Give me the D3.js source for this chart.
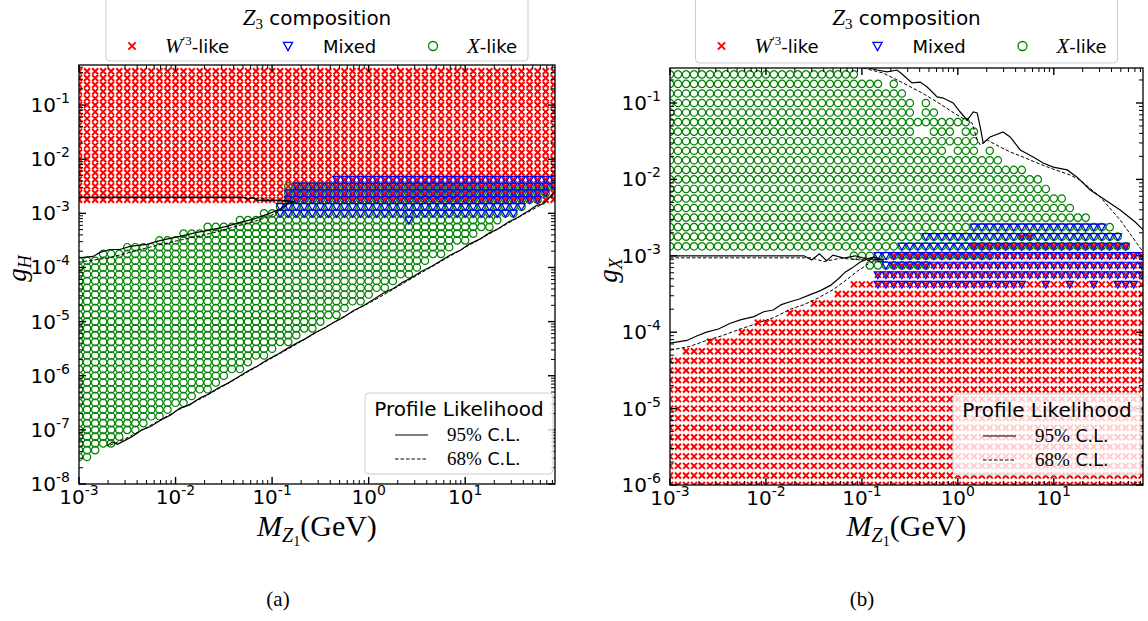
<!DOCTYPE html>
<html><head><meta charset="utf-8">
<script src="https://cdn.jsdelivr.net/npm/d3@7"></script>
<style>body{margin:0;background:#fff}</style>
</head><body>
<svg id="c" width="1148" height="621" xmlns="http://www.w3.org/2000/svg"></svg>
<script>
// ---------- scan grid (log-spaced parameter scan) ----------
const mGrid = [0.001,0.00121,0.00147,0.00178,0.00215,0.00261,0.00316,0.00383,0.00464,0.00562,0.00681,0.00825,
 0.01,0.0121,0.0147,0.0178,0.0215,0.0261,0.0316,0.0383,0.0464,0.0562,0.0681,0.0825,
 0.1,0.121,0.147,0.178,0.215,0.261,0.316,0.383,0.464,0.562,0.681,0.825,
 1,1.21,1.47,1.78,2.15,2.61,3.16,3.83,4.64,5.62,6.81,8.25,
 10,12.1,14.7,17.8,21.5,26.1,31.6,38.3,46.4,56.2,68.1,82.5];
const gGrid = [1e-8,1.33e-8,1.78e-8,2.37e-8,3.16e-8,4.22e-8,5.62e-8,7.5e-8,
 1e-7,1.33e-7,1.78e-7,2.37e-7,3.16e-7,4.22e-7,5.62e-7,7.5e-7,
 1e-6,1.33e-6,1.78e-6,2.37e-6,3.16e-6,4.22e-6,5.62e-6,7.5e-6,
 1e-5,1.33e-5,1.78e-5,2.37e-5,3.16e-5,4.22e-5,5.62e-5,7.5e-5,
 1e-4,1.33e-4,1.78e-4,2.37e-4,3.16e-4,4.22e-4,5.62e-4,7.5e-4,
 1e-3,1.33e-3,1.78e-3,2.37e-3,3.16e-3,4.22e-3,5.62e-3,7.5e-3,
 1e-2,1.33e-2,1.78e-2,2.37e-2,3.16e-2,4.22e-2,5.62e-2,7.5e-2,
 0.1,0.133,0.178,0.237,0.316,0.422];

// ---------- panel (a): g_H vs M_Z1 ----------
const aRedRows = [42, 61];               // W'3-like rows, every column
const aGreenLo = [4,4,5,6,6,7,8,8,9,10,10,11,12,12,13,14,14,15,16,17,17,18,19,19,20,21,21,22,23,23,
 24,25,25,26,27,27,28,29,29,30,31,31,32,33,34,34,35,36,36,37,38,38,39,40,40,41,42,42,43,44];
const aGreenHi = [33,33,33,34,34,34,35,35,35,35,36,36,36,37,37,37,38,38,38,38,39,39,39,40,40,41,
 44,44,44,44,44,44,44,44,44,44,44,44,44,44,44,44,44,44,44,44,44,44,44,44,44,44,44,44,44,44,44,44,44,44];
const aMixed = [[25,40,41],[26,40,43],[27,40,44],[28,40,44],[29,40,44],[30,40,44],[31,40,44],
 [32,40,45],[33,40,45],[34,40,45],[35,40,45],[36,40,45],[37,40,45],[38,40,45],[39,40,45],[40,40,45],
 [41,39,45],[42,40,45],[43,40,45],[44,40,45],[45,40,45],[46,40,45],[47,40,45],[48,40,45],[49,40,45],
 [50,40,45],[51,40,45],[52,40,45],[53,40,45],[54,40,45],[55,41,45],[56,42,45],[57,42,45],[58,43,45],[59,44,45]];
const aCL95Wedge = [[0.001,2.0e-3],[0.02,2.0e-3],[0.05,2.0e-3],[0.056,1.78e-3],[0.062,1.98e-3],[0.07,1.75e-3],
 [0.09,1.72e-3],[0.12,1.75e-3],[0.15,1.7e-3],[0.17,1.65e-3],[0.142,1.47e-3],[0.121,1.19e-3],[0.0883,9.58e-4],
 [0.0632,7.74e-4],[0.0465,6.81e-4],[0.034,5.74e-4],[0.0244,5.06e-4],[0.0167,4.45e-4],[0.0111,3.75e-4],
 [0.00875,3.44e-4],[0.00641,3.03e-4],[0.00506,2.67e-4],[0.00337,2.45e-4],[0.00265,2.15e-4],[0.00209,2.15e-4],
 [0.00165,1.9e-4],[0.0014,1.6e-4],[0.001,1.5e-4]];
const aCL68Wedge = [[0.001,1.95e-3],[0.05,1.95e-3],[0.06,1.9e-3],[0.1,1.8e-3],[0.15,1.62e-3],[0.15,1.5e-3],
 [0.12,1.1e-3],[0.09,8.5e-4],[0.06,6.8e-4],[0.04,5.6e-4],[0.025,4.4e-4],[0.015,3.6e-4],[0.008,2.8e-4],
 [0.005,2.3e-4],[0.003,1.8e-4],[0.002,1.5e-4],[0.001,1.25e-4]];
const aCL95Low = [[1.95e-3,5.0e-8],[2.2e-3,6.0e-8],[2.5e-3,5.4e-8],[3.0e-3,6.4e-8],[3.6e-3,7.6e-8],[4.5e-3,1.0e-7],
 [5.5e-3,1.15e-7],[7e-3,1.5e-7],[9e-3,1.9e-7],[0.011,2.5e-7],[0.014,2.9e-7],[0.018,3.9e-7],[0.022,4.6e-7],
 [0.028,6.0e-7],[0.035,7.3e-7],[0.045,9.6e-7],[0.055,1.2e-6],[0.07,1.5e-6],[0.09,2.0e-6],[0.11,2.4e-6],
 [0.14,3.1e-6],[0.18,4.0e-6],[0.22,4.8e-6],[0.28,6.3e-6],[0.35,7.6e-6],[0.45,1.0e-5],[0.55,1.2e-5],[0.7,1.6e-5],
 [0.9,2.0e-5],[1.1,2.5e-5],[1.4,3.3e-5],[1.8,4.1e-5],[2.2,5.2e-5],[2.8,6.5e-5],[3.5,8.4e-5],[4.5,1.05e-4],
 [5.5,1.3e-4],[7,1.7e-4],[9,2.1e-4],[11,2.7e-4],[14,3.3e-4],[18,4.4e-4],[22,5.2e-4],[28,6.9e-4],[35,8.4e-4],
 [45,1.1e-3],[55,1.4e-3],[65,1.5e-3],[75,2.0e-3],[85,2.5e-3]];
const aCL68Low = [[2.1e-3,5.2e-8],[3.0e-3,6.8e-8],[5e-3,1.1e-7],[0.01,2.2e-7],[0.02,4.1e-7],[0.04,8.3e-7],
 [0.08,1.7e-6],[0.15,3.2e-6],[0.3,6.6e-6],[0.6,1.35e-5],[1.2,2.6e-5],[2.5,5.6e-5],[5,1.15e-4],[10,2.35e-4],
 [20,4.7e-4],[40,9.5e-4],[60,1.4e-3],[85,2.3e-3]];

// ---------- panel (b): g_X vs M_Z1 (rows counted from 1e-6) ----------
const bRowOffset = 16;
const bRed = [[0,0,59],[1,0,59],[2,0,59],[3,0,59],[4,0,59],[5,0,59],[6,0,59],[7,0,59],[8,0,59],[9,0,59],
 [10,0,59],[11,0,59],[12,0,59],[13,0,59],[14,2,59],[15,5,59],[16,9,59],[17,11,59],[18,15,59],[19,18,59],
 [20,21,59],[21,23,59],[22,26,59],[23,28,59],[24,28,59],[25,38,57],[26,44,45]];
const bMixed = [[27,38,54],[26,32,56],[25,29,57],[24,26,59],[23,27,59],[22,26,59],
 [21,26,44],[21,47,47],[21,50,50],[21,53,53],[21,56,58]];
const bGreen = [[43,0,23],[42,0,26],[42,28,28],[41,0,29],[40,0,30],[40,32,32],[39,0,30],[39,32,33],
 [38,0,37],[37,0,30],[37,33,35],[37,37,38],[36,0,38],[35,0,34],[35,36,38],[35,40,40],[34,0,41],
 [33,0,44],[32,0,46],[31,0,47],[30,0,49],[29,0,50],[28,0,52],[27,0,55],[26,0,56],[25,0,57],[24,23,40],[23,25,32]];
const bCL95Wedge = [[0.001,1.0e-3],[0.015,1.0e-3],[0.025,1.0e-3],[0.03,8.8e-4],[0.036,1.06e-3],[0.043,8.6e-4],
 [0.05,1.02e-3],[0.065,9.3e-4],[0.085,1.0e-3],[0.11,9.2e-4],[0.14,9.0e-4],[0.17,8.8e-4],[0.135,9.6e-4],
 [0.12,9.3e-4],[0.096,8.3e-4],[0.08,7.0e-4],[0.067,6.1e-4],[0.057,5.0e-4],[0.047,4.1e-4],[0.037,3.5e-4],
 [0.029,3.1e-4],[0.022,2.7e-4],[0.0178,2.5e-4],[0.0145,2.3e-4],[0.0119,1.95e-4],[0.0095,1.85e-4],
 [0.0075,1.6e-4],[0.0054,1.45e-4],[0.0042,1.3e-4],[0.0032,1.1e-4],[0.0024,1.0e-4],[0.0019,8.9e-5],
 [0.0015,7.8e-5],[0.001,7.2e-5]];
const bCL68Wedge = [[0.001,9.4e-4],[0.03,9.4e-4],[0.04,8.4e-4],[0.06,9.3e-4],[0.1,8.8e-4],[0.17,8.4e-4],
 [0.14,8.6e-4],[0.12,8.0e-4],[0.09,6.3e-4],[0.07,4.9e-4],[0.05,3.6e-4],[0.035,2.8e-4],[0.025,2.3e-4],
 [0.018,2.0e-4],[0.012,1.55e-4],[0.008,1.3e-4],[0.0054,1.1e-4],[0.0035,9.0e-5],[0.0024,7.8e-5],
 [0.0016,6.5e-5],[0.001,5.8e-5]];
const bCL95Up = [[0.0891,0.314],[0.144,0.270],[0.183,0.255],[0.233,0.270],[0.269,0.232],[0.333,0.183],
 [0.405,0.188],[0.479,0.162],[0.608,0.120],[0.703,0.116],[0.893,0.100],[1.06,0.0762],[1.25,0.0598],
 [1.45,0.0762],[1.59,0.0740],[1.71,0.0485],[1.84,0.0299],[2.17,0.0359],[2.96,0.0417],[3.51,0.0359],
 [4.47,0.0243],[6.10,0.0196],[7.74,0.0164],[9.86,0.0145],[13.8,0.0133],[17.5,0.0107],[24.0,0.00726],
 [34.4,0.00537],[49.2,0.00397],[70.6,0.00277],[85.5,0.00218]];
const bCL68Up = [[0.103,0.287],[0.166,0.247],[0.269,0.183],[0.425,0.135],[0.608,0.103],[1.06,0.0656],
 [1.41,0.0547],[1.59,0.0328],[1.71,0.0282],[2.02,0.0328],[2.76,0.0265],[3.51,0.0229],[4.80,0.0196],
 [6.71,0.0164],[9.17,0.0141],[14.8,0.0114],[18.8,0.00982],[30.5,0.00589],[49.2,0.00294],[85.5,0.00112]];

const xTickExps = [-3,-2,-1,0,1];
const aYTickExps = [-8,-7,-6,-5,-4,-3,-2,-1];
const bYTickExps = [-6,-5,-4,-3,-2,-1];

// ---------- drawing ----------
const svg = d3.select('#c');
const SANS = 'DejaVu Sans', SERIF = 'Liberation Serif';
const RED = '#ff0000', BLUE = '#0000ff', GREEN = '#008000';
const XPATH = 'M-3,-3L3,3M-3,3L3,-3';
const VPATH = 'M-3.8,-3.1L3.8,-3.1L0,3.8Z';
const XPATH_L = 'M-3.6,-3.6L3.6,3.6M-3.6,3.6L3.6,-3.6';
const VPATH_L = 'M-4.6,-3.7L4.6,-3.7L0,4.6Z';

function panel(o) {
  const x = d3.scaleLog().domain([1e-3, 85.1]).range([o.left, o.right]);
  const y = d3.scaleLog().domain([o.yMin, o.yMax]).range([o.bottom, o.top]);
  svg.append('clipPath').attr('id', 'clip' + o.id).append('rect')
    .attr('x', o.left).attr('y', o.top).attr('width', o.right - o.left).attr('height', o.bottom - o.top);
  const g = svg.append('g').attr('clip-path', `url(#clip${o.id})`);
  return {x, y, g, o};
}

function drawMarkers(P, pts, kind) {
  const sel = P.g.append('g').selectAll('path').data(pts).join('path')
    .attr('transform', d => `translate(${P.x(d[0])},${P.y(d[1])})`).attr('fill', 'none');
  if (kind === 'x') sel.attr('d', XPATH).attr('stroke', RED).attr('stroke-width', 2);
  if (kind === 'v') sel.attr('d', VPATH).attr('stroke', BLUE).attr('stroke-width', 1.2);
  if (kind === 'o') sel.attr('d', d3.symbol(d3.symbolCircle, Math.PI * 3.7 * 3.7)()).attr('stroke', GREEN).attr('stroke-width', 1.2);
}

function drawLine(P, pts, dashed) {
  const line = d3.line().x(d => P.x(d[0])).y(d => P.y(d[1]));
  P.g.append('path').attr('d', line(pts)).attr('fill', 'none').attr('stroke', '#000')
    .attr('stroke-width', dashed ? 1 : 1.2).attr('stroke-dasharray', dashed ? '3.5,2' : null);
}

function powLabel(parent, x, y, exp, anchor) {
  const t = parent.append('text').attr('x', x).attr('y', y).attr('text-anchor', anchor)
    .attr('font-family', SANS).attr('font-size', 20).attr('fill', '#000');
  t.append('tspan').text('10');
  t.append('tspan').attr('font-size', 14).attr('dy', -9).text(String(exp));
}

function axes(P, yExps, ysub, cap, capX) {
  const {x, y, o} = P;
  const ax = svg.append('g');
  ax.append('rect').attr('x', o.left).attr('y', o.top).attr('width', o.right - o.left).attr('height', o.bottom - o.top)
    .attr('fill', 'none').attr('stroke', '#000').attr('stroke-width', 1.3);
  const xd = x.domain(), yd = y.domain();
  for (let k = Math.floor(Math.log10(xd[0])); k <= Math.ceil(Math.log10(xd[1])); k++) {
    for (let m = 1; m <= 9; m++) {
      const v = m * Math.pow(10, k);
      if (v < xd[0] * 0.999 || v > xd[1]) continue;
      const px = x(v), L = m === 1 ? 7 : 4, w = m === 1 ? 1.4 : 1;
      ax.append('line').attr('x1', px).attr('x2', px).attr('y1', o.bottom).attr('y2', o.bottom - L).attr('stroke', '#000').attr('stroke-width', w);
      ax.append('line').attr('x1', px).attr('x2', px).attr('y1', o.top).attr('y2', o.top + L).attr('stroke', '#000').attr('stroke-width', w);
    }
  }
  for (let k = Math.floor(Math.log10(yd[0])); k <= Math.ceil(Math.log10(yd[1])); k++) {
    for (let m = 1; m <= 9; m++) {
      const v = m * Math.pow(10, k);
      if (v < yd[0] * 0.999 || v > yd[1]) continue;
      const py = y(v), L = m === 1 ? 7 : 4, w = m === 1 ? 1.4 : 1;
      ax.append('line').attr('y1', py).attr('y2', py).attr('x1', o.left).attr('x2', o.left + L).attr('stroke', '#000').attr('stroke-width', w);
      ax.append('line').attr('y1', py).attr('y2', py).attr('x1', o.right).attr('x2', o.right - L).attr('stroke', '#000').attr('stroke-width', w);
    }
  }
  xTickExps.forEach(e => powLabel(ax, x(Math.pow(10, e)), o.bottom + 20, e, 'middle'));
  yExps.forEach(e => powLabel(ax, o.left - 9, y(Math.pow(10, e)) + 7, e, 'end'));
  // x label
  const cx = (o.left + o.right) / 2;
  const t = ax.append('text').attr('x', cx).attr('y', 536).attr('text-anchor', 'middle')
    .attr('font-family', SERIF).attr('font-size', 30).attr('fill', '#000');
  t.append('tspan').attr('font-style', 'italic').text('M');
  t.append('tspan').attr('font-style', 'italic').attr('font-size', 20).attr('dy', 6).text('Z');
  t.append('tspan').attr('font-size', 14).attr('dy', 4).text('1');
  t.append('tspan').attr('dy', -10).text('(GeV)');
  // y label
  const yl = ax.append('text').attr('transform', `translate(${o.left - 53},${(o.top + o.bottom) / 2 - 6}) rotate(-90)`)
    .attr('text-anchor', 'middle').attr('font-family', SERIF).attr('font-size', 27).attr('fill', '#000');
  yl.append('tspan').attr('font-style', 'italic').text('g');
  yl.append('tspan').attr('font-style', 'italic').attr('font-size', 18).attr('dy', 5).text(ysub);
  // sub caption
  svg.append('text').attr('x', capX).attr('y', 606).attr('text-anchor', 'middle')
    .attr('font-family', SERIF).attr('font-size', 21).attr('fill', '#000').text(cap);
}

function topLegend(cx, bottom) {
  const L = svg.append('g');
  L.append('rect').attr('x', cx - 211).attr('y', -6).attr('width', 422).attr('height', bottom + 6)
    .attr('rx', 4).attr('fill', '#fff').attr('fill-opacity', 0.8).attr('stroke', '#cccccc').attr('stroke-width', 1);
  const t = L.append('text').attr('x', cx).attr('y', 25).attr('text-anchor', 'middle').attr('font-size', 20).attr('fill', '#000');
  t.append('tspan').attr('font-family', SERIF).attr('font-style', 'italic').attr('font-size', 23).text('Z');
  t.append('tspan').attr('font-family', SERIF).attr('font-size', 15).attr('dy', 4).text('3');
  t.append('tspan').attr('font-family', SANS).attr('dy', -4).text('\u00a0composition');
  const ey = 46, by = 53;
  L.append('path').attr('d', XPATH_L).attr('transform', `translate(${cx - 185},${ey})`)
    .attr('stroke', RED).attr('stroke-width', 2).attr('fill', 'none');
  L.append('path').attr('d', VPATH_L).attr('transform', `translate(${cx - 29},${ey})`)
    .attr('stroke', BLUE).attr('stroke-width', 1.3).attr('fill', 'none');
  L.append('circle').attr('cx', cx + 116).attr('cy', ey).attr('r', 4.5).attr('stroke', GREEN).attr('stroke-width', 1.3).attr('fill', 'none');
  const t1 = L.append('text').attr('x', cx - 152).attr('y', by).attr('font-size', 18).attr('fill', '#000');
  t1.append('tspan').attr('font-family', SERIF).attr('font-style', 'italic').attr('font-size', 21).text('W');
  t1.append('tspan').attr('font-family', SERIF).attr('font-size', 13).attr('dy', -8).text('\u20323');
  t1.append('tspan').attr('font-family', SANS).attr('dy', 8).text('-like');
  L.append('text').attr('x', cx + 6).attr('y', by).attr('font-family', SANS).attr('font-size', 18).attr('fill', '#000').text('Mixed');
  const t3 = L.append('text').attr('x', cx + 150).attr('y', by).attr('font-size', 18).attr('fill', '#000');
  t3.append('tspan').attr('font-family', SERIF).attr('font-style', 'italic').attr('font-size', 21).text('X');
  t3.append('tspan').attr('font-family', SANS).text('-like');
}

function clLegend(right, top) {
  const L = svg.append('g'), left = right - 188;
  L.append('rect').attr('x', left).attr('y', top).attr('width', 188).attr('height', 81).attr('rx', 4)
    .attr('fill', '#fff').attr('fill-opacity', 0.8).attr('stroke', '#cccccc');
  L.append('text').attr('x', left + 94).attr('y', top + 23).attr('text-anchor', 'middle')
    .attr('font-family', SANS).attr('font-size', 20).attr('fill', '#000').text('Profile Likelihood');
  [['95%', top + 42, null], ['68%', top + 66, '3.5,2']].forEach(([lab, yy, dash]) => {
    L.append('line').attr('x1', left + 30).attr('x2', left + 63).attr('y1', yy).attr('y2', yy)
      .attr('stroke', '#000').attr('stroke-width', dash ? 1 : 1.2).attr('stroke-dasharray', dash);
    const t = L.append('text').attr('x', left + 82).attr('y', yy + 6).attr('font-size', 17.5).attr('fill', '#000');
    t.append('tspan').attr('font-family', SERIF).attr('font-size', 19).text(lab);
    t.append('tspan').attr('font-family', SANS).text('\u00a0C.L.');
  });
}

// ----- panel a -----
const A = panel({id: 'a', left: 79, right: 555, top: 65, bottom: 484, yMin: 1e-8, yMax: 0.55});
{
  const red = [], green = [], mixed = [];
  mGrid.forEach((m, c) => {
    for (let j = aRedRows[0]; j <= aRedRows[1]; j++) red.push([m, gGrid[j]]);
    for (let j = aGreenLo[c]; j <= aGreenHi[c]; j++) green.push([m, gGrid[j]]);
  });
  aMixed.forEach(([c, lo, hi]) => { for (let j = lo; j <= hi; j++) mixed.push([mGrid[c], gGrid[j]]); });
  drawMarkers(A, red, 'x');
  drawMarkers(A, green, 'o');
  drawMarkers(A, mixed, 'v');
  drawLine(A, aCL95Wedge, false); drawLine(A, aCL68Wedge, true);
  drawLine(A, aCL95Low, false); drawLine(A, aCL68Low, true);
}
axes(A, aYTickExps, 'H', '(a)', 278);

// ----- panel b -----
const B = panel({id: 'b', left: 670, right: 1143, top: 68, bottom: 485, yMin: 1e-6, yMax: 0.287});
{
  const expand = runs => { const out = []; runs.forEach(([r, c0, c1]) => { for (let c = c0; c <= c1; c++) out.push([mGrid[c], gGrid[r + bRowOffset]]); }); return out; };
  drawMarkers(B, expand(bRed), 'x');
  drawMarkers(B, expand(bGreen), 'o');
  drawMarkers(B, expand(bMixed), 'v');
  drawLine(B, bCL95Wedge, false); drawLine(B, bCL68Wedge, true);
  drawLine(B, bCL95Up, false); drawLine(B, bCL68Up, true);
}
axes(B, bYTickExps, 'X', '(b)', 862);

topLegend(317, 61);
topLegend(906.5, 63);
clLegend(553, 393);
clLegend(1141, 394);
</script>
</body></html>
